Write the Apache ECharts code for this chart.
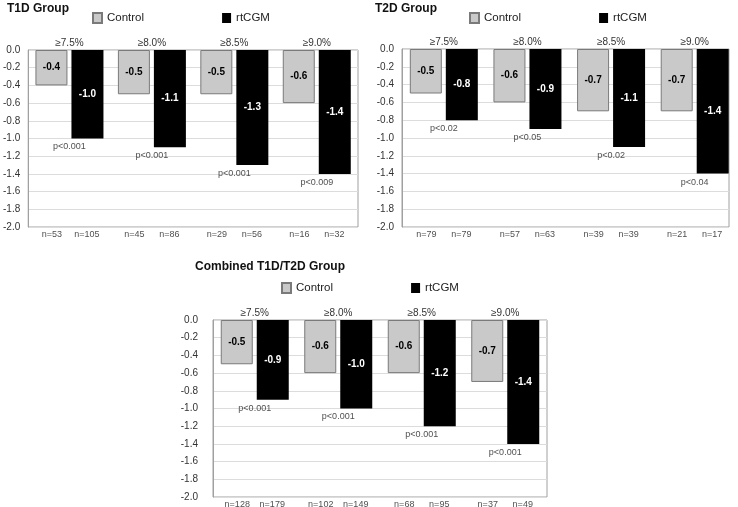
<!DOCTYPE html>
<html>
<head>
<meta charset="utf-8">
<script src="https://cdn.jsdelivr.net/npm/echarts@6/dist/echarts.min.js"></script>
<style>
html,body{margin:0;padding:0;background:#fff;}
#c{width:738px;height:507px;}
</style>
</head>
<body>
<div id="c"></div>
<script>
const categories = ['≥7.5%', '≥8.0%', '≥8.5%', '≥9.0%'];
const yTicks = [0, -0.2, -0.4, -0.6, -0.8, -1.0, -1.2, -1.4, -1.6, -1.8, -2.0];

const t1dControl = [-0.4, -0.5, -0.5, -0.6];
const t1dRtcgm = [-1.0, -1.1, -1.3, -1.4];
const t1dP = ['p<0.001', 'p<0.001', 'p<0.001', 'p<0.009'];
const t1dNControl = ['n=53', 'n=45', 'n=29', 'n=16'];
const t1dNRtcgm = ['n=105', 'n=86', 'n=56', 'n=32'];

const t2dControl = [-0.5, -0.6, -0.7, -0.7];
const t2dRtcgm = [-0.8, -0.9, -1.1, -1.4];
const t2dP = ['p<0.02', 'p<0.05', 'p<0.02', 'p<0.04'];
const t2dNControl = ['n=79', 'n=57', 'n=39', 'n=21'];
const t2dNRtcgm = ['n=79', 'n=63', 'n=39', 'n=17'];

const combControl = [-0.5, -0.6, -0.6, -0.7];
const combRtcgm = [-0.9, -1.0, -1.2, -1.4];
const combP = ['p<0.001', 'p<0.001', 'p<0.001', 'p<0.001'];
const combNControl = ['n=128', 'n=102', 'n=68', 'n=37'];
const combNRtcgm = ['n=179', 'n=149', 'n=95', 'n=49'];

const panels = [
  {title: 'T1D Group', control: t1dControl, rtcgm: t1dRtcgm, p: t1dP, nC: t1dNControl, nR: t1dNRtcgm,
   grid: {left: 24, top: 50, width: 334, height: 177}, xMax: 4, titlePos: {left: 7, top: 3}, legendPos: {left: 92, top: 12}, labelMargin: 8},
  {title: 'T2D Group', control: t2dControl, rtcgm: t2dRtcgm, p: t2dP, nC: t2dNControl, nR: t2dNRtcgm,
   grid: {left: 402, top: 49, width: 327, height: 178}, xMax: 3.91, titlePos: {left: 375, top: 3}, legendPos: {left: 469, top: 12}, labelMargin: 8},
  {title: 'Combined T1D/T2D Group', control: combControl, rtcgm: combRtcgm, p: combP, nC: combNControl, nR: combNRtcgm,
   grid: {left: 213, top: 320, width: 334, height: 177}, xMax: 4, titlePos: {left: 195, top: 261}, legendPos: {left: 281, top: 282}, labelMargin: 15}
];

const FONT = '"Liberation Sans", Arial, Helvetica, sans-serif';
const xs = categories.map((c, k) => k + 0.5);
const option = {
  animation: false,
  backgroundColor: '#fff',
  textStyle: {fontFamily: FONT},
  title: [], legend: [], grid: [], xAxis: [], yAxis: [], series: []
};

panels.forEach((p, i) => {
  option.title.push(Object.assign({
    text: p.title,
    textStyle: {fontFamily: FONT, fontSize: 12, fontWeight: 'bold', color: '#111'},
    padding: 0
  }, p.titlePos));
  option.legend.push(Object.assign({
    data: ['Control', 'rtCGM'],
    icon: 'rect',
    itemWidth: 9, itemHeight: 10, itemGap: 78,
    padding: 0,
    textStyle: {fontFamily: FONT, fontSize: 11.5, color: '#222'}
  }, p.legendPos));
  option.grid.push(Object.assign({show: true, borderColor: '#a0a0a0', borderWidth: 1, backgroundColor: 'transparent'}, p.grid));
  option.xAxis.push({
    type: 'value', gridIndex: i, min: 0, max: p.xMax, position: 'top',
    axisLine: {show: false}, axisTick: {show: false}, splitLine: {show: false},
    axisLabel: {color: '#333', fontSize: 10, margin: 2, fontFamily: FONT,
      customValues: xs, formatter: v => categories[Math.floor(v)]}
  });
  option.yAxis.push({
    type: 'value', gridIndex: i, min: -2.0, max: 0, interval: 0.2,
    axisLine: {show: true, lineStyle: {color: '#a0a0a0'}},
    axisTick: {show: false},
    splitLine: {lineStyle: {color: '#dcdcdc'}},
    axisLabel: {color: '#333', fontSize: 10, margin: p.labelMargin, fontFamily: FONT,
      formatter: v => (Math.abs(v) < 1e-9 ? 0 : v).toFixed(1)}
  });
  option.series.push({
    name: 'Control', type: 'bar', xAxisIndex: i, yAxisIndex: i,
    data: p.control.map((v, k) => [xs[k], v]),
    barWidth: 32, barGap: '12.5%',
    itemStyle: {color: '#c9c9c9', borderColor: '#7a7a7a', borderWidth: 1},
    label: {show: true, position: 'inside', fontWeight: 'bold', fontSize: 10, color: '#000',
      formatter: d => d.value[1].toFixed(1), fontFamily: FONT}
  });
  option.series.push({
    name: 'rtCGM', type: 'bar', xAxisIndex: i, yAxisIndex: i,
    data: p.rtcgm.map((v, k) => [xs[k], v]),
    barWidth: 32, barGap: '12.5%',
    itemStyle: {color: '#000'},
    label: {show: true, position: 'inside', fontWeight: 'bold', fontSize: 10, color: '#fff',
      formatter: d => d.value[1].toFixed(1), fontFamily: FONT}
  });
  option.series.push({
    name: 'pval', type: 'scatter', xAxisIndex: i, yAxisIndex: i, symbolSize: 0, silent: true,
    data: p.rtcgm.map((v, k) => ({value: [xs[k], v], label: {formatter: p.p[k]}})),
    label: {show: true, position: 'bottom', distance: 4, fontSize: 9, color: '#222', fontFamily: FONT}
  });
  option.series.push({
    name: 'nControl', type: 'scatter', xAxisIndex: i, yAxisIndex: i, symbolSize: 0, silent: true,
    data: p.nC.map((t, k) => ({value: [xs[k], -2.0], label: {formatter: t}})),
    label: {show: true, position: 'bottom', distance: 3, offset: [-17.5, 0], fontSize: 9, color: '#222', fontFamily: FONT}
  });
  option.series.push({
    name: 'nRtcgm', type: 'scatter', xAxisIndex: i, yAxisIndex: i, symbolSize: 0, silent: true,
    data: p.nR.map((t, k) => ({value: [xs[k], -2.0], label: {formatter: t}})),
    label: {show: true, position: 'bottom', distance: 3, offset: [17.5, 0], fontSize: 9, color: '#222', fontFamily: FONT}
  });
});

const chart = echarts.init(document.getElementById('c'), null, {renderer: 'canvas'});
chart.setOption(option);
</script>
</body>
</html>
